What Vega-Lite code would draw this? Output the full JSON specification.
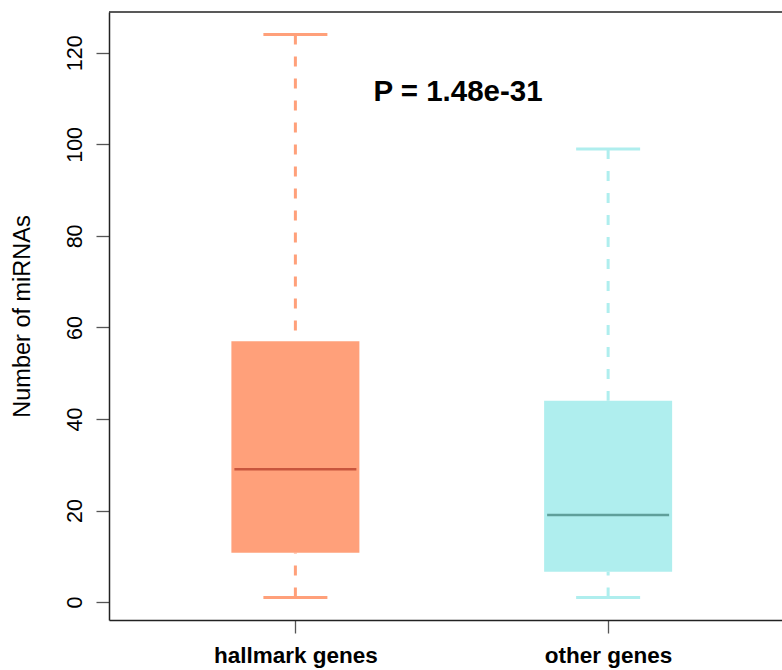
{
  "$schema": "https://vega.github.io/schema/vega-lite/v6.json",
  "width": 673,
  "height": 608,
  "autosize": "none",
  "padding": {"left": 109, "top": 12, "right": 0, "bottom": 50},
  "background": "white",
  "config": {"view": {"stroke": null}, "font": "Liberation Sans"},
  "data": {"values": [
    {"group": "hallmark genes", "pos": 1, "min": 1, "q1": 10.8, "median": 29, "q3": 57, "max": 124},
    {"group": "other genes", "pos": 2, "min": 1, "q1": 6.6, "median": 19, "q3": 44, "max": 99}
  ]},
  "resolve": {"scale": {"color": "independent"}},
  "layer": [
    {
      "mark": {"type": "rule", "strokeDash": [10, 12], "strokeWidth": 3, "strokeCap": "butt"},
      "encoding": {
        "x": {"field": "pos", "type": "quantitative", "scale": {"domain": [0.42, 2.54], "nice": false, "zero": false},
          "axis": {"values": [1, 2], "labelExpr": "datum.value == 1 ? 'hallmark genes' : 'other genes'", "title": null, "grid": false,
            "domainColor": "#222", "domainWidth": 1.5, "tickColor": "#555", "tickSize": 13, "tickWidth": 1.3,
            "labelFontSize": 22.5, "labelFontWeight": "bold", "labelColor": "black", "labelPadding": 11, "labelBaseline": "top", "labelFlush": false}},
        "y": {"field": "max", "type": "quantitative", "scale": {"domain": [-3.92, 128.92], "nice": false, "zero": false},
          "axis": {"values": [0, 20, 40, 60, 80, 100, 120], "title": "Number of miRNAs", "grid": false,
            "titleFontSize": 23.5, "titleFontWeight": "normal", "titleColor": "black", "titleX": -87, "titleY": 304, "titleAngle": -90, "titleAlign": "center", "titleBaseline": "middle",
            "domainColor": "#222", "domainWidth": 1.5, "tickColor": "#555", "tickSize": 13, "tickWidth": 1.3,
            "labelAngle": -90, "labelAlign": "center", "labelBaseline": "bottom", "labelPadding": 10, "labelFontSize": 21.5, "labelColor": "black", "labelFlush": false}},
        "y2": {"field": "q3"},
        "color": {"field": "group", "type": "nominal", "scale": {"domain": ["hallmark genes", "other genes"], "range": ["#FFA07A", "#AFEEEE"]}, "legend": null}
      }
    },
    {
      "mark": {"type": "rule", "strokeDash": [10, 12], "strokeWidth": 3, "strokeCap": "butt"},
      "encoding": {
        "x": {"field": "pos", "type": "quantitative"},
        "y": {"field": "min", "type": "quantitative"},
        "y2": {"field": "q1"},
        "color": {"field": "group", "type": "nominal", "scale": {"domain": ["hallmark genes", "other genes"], "range": ["#FFA07A", "#AFEEEE"]}, "legend": null}
      }
    },
    {
      "mark": {"type": "tick", "orient": "horizontal", "size": 64, "thickness": 3, "opacity": 1},
      "encoding": {
        "x": {"field": "pos", "type": "quantitative"},
        "y": {"field": "max", "type": "quantitative"},
        "color": {"field": "group", "type": "nominal", "scale": {"domain": ["hallmark genes", "other genes"], "range": ["#FFA07A", "#AFEEEE"]}, "legend": null}
      }
    },
    {
      "mark": {"type": "tick", "orient": "horizontal", "size": 64, "thickness": 3, "opacity": 1},
      "encoding": {
        "x": {"field": "pos", "type": "quantitative"},
        "y": {"field": "min", "type": "quantitative"},
        "color": {"field": "group", "type": "nominal", "scale": {"domain": ["hallmark genes", "other genes"], "range": ["#FFA07A", "#AFEEEE"]}, "legend": null}
      }
    },
    {
      "mark": {"type": "bar", "width": 128, "opacity": 1},
      "encoding": {
        "x": {"field": "pos", "type": "quantitative"},
        "y": {"field": "q1", "type": "quantitative"},
        "y2": {"field": "q3"},
        "color": {"field": "group", "type": "nominal", "scale": {"domain": ["hallmark genes", "other genes"], "range": ["#FFA07A", "#AFEEEE"]}, "legend": null}
      }
    },
    {
      "mark": {"type": "tick", "orient": "horizontal", "size": 122, "thickness": 2.5, "opacity": 1},
      "encoding": {
        "x": {"field": "pos", "type": "quantitative"},
        "y": {"field": "median", "type": "quantitative"},
        "color": {"field": "group", "type": "nominal", "scale": {"domain": ["hallmark genes", "other genes"], "range": ["#C8553D", "#5F9F9A"]}, "legend": null}
      }
    },
    {
      "data": {"values": [{"label": "P = 1.48e-31"}]},
      "mark": {"type": "text", "fontSize": 29.5, "fontWeight": "bold", "color": "black", "align": "center", "baseline": "middle"},
      "encoding": {
        "x": {"datum": 1.52, "type": "quantitative"},
        "y": {"datum": 111.5, "type": "quantitative"},
        "text": {"field": "label"}
      }
    },
    {
      "data": {"values": [{"edge": "top"}]},
      "mark": {"type": "rule", "color": "#222", "strokeWidth": 1.5},
      "encoding": {
        "y": {"datum": 128.92, "type": "quantitative"}
      }
    }
  ]
}
